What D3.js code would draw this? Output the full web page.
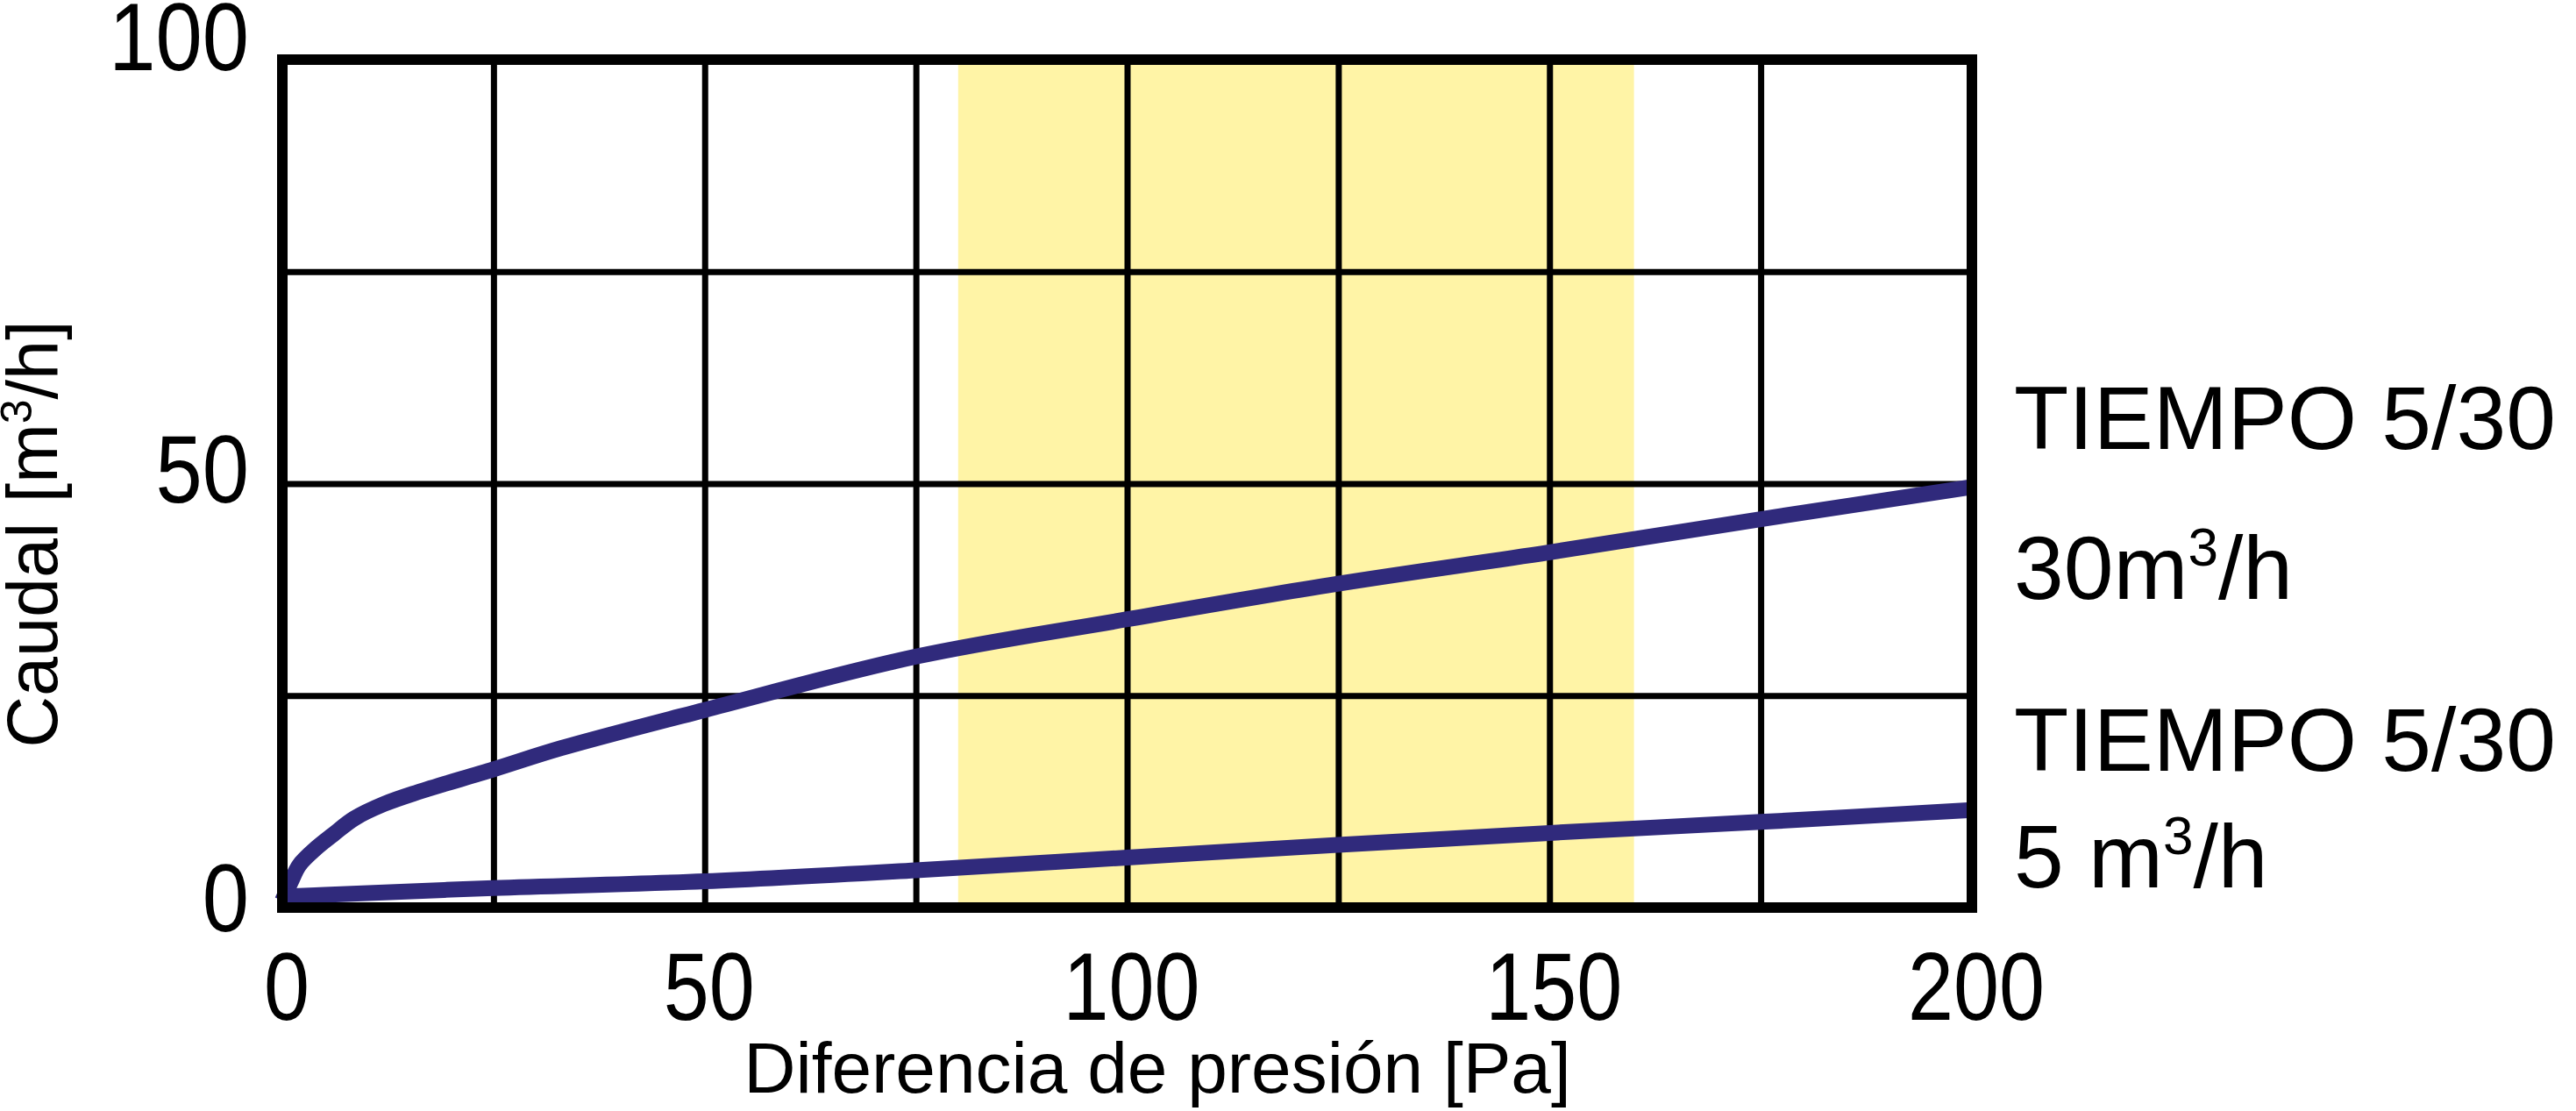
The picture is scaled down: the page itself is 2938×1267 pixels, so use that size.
<!DOCTYPE html>
<html>
<head>
<meta charset="utf-8">
<script src="https://cdn.jsdelivr.net/npm/d3@7"></script>
<style>
  html, body { margin: 0; padding: 0; background: #fff; }
  svg { display: block; font-family: "Liberation Sans", Arial, sans-serif; }
</style>
</head>
<body>
<svg id="chart" width="2938" height="1267"></svg>
<script>
// data
const pressure30 = [0, 1, 2, 4, 6, 8.5, 12, 16, 25, 33, 50, 75, 100, 125, 150, 175, 200];
const flow30     = [0.8, 3, 5, 7, 8.6, 10.5, 12.2, 13.6, 16.3, 18.8, 23.3, 29.6, 34.0, 38.2, 41.9, 45.8, 49.6];
const pressure5  = [0, 5, 25, 50, 75, 100, 125, 150, 175, 200];
const flow5      = [1.3, 1.5, 2.3, 3.1, 4.4, 5.9, 7.4, 8.8, 10.1, 11.5];

const xTicks = [0, 50, 100, 150, 200];
const yTicks = [0, 50, 100];
const xGrid = [25, 50, 75, 100, 125, 150, 175];
const yGrid = [25, 50, 75];
const bandRange = [80, 160];

const seriesTitle = ["TIEMPO 5/30", "TIEMPO 5/30"];
const seriesRate = ["30", "5 "];

const xTitle = "Diferencia de presión [Pa]";
const yTitle = "Caudal [m";

// layout
const svg = d3.select("#chart");
const pLeft = 322, pRight = 2249, pTop = 68, pBottom = 1035;

const x = d3.scaleLinear().domain([0, 200]).range([pLeft, pRight]);
const y = d3.scaleLinear().domain([0, 100]).range([pBottom, pTop]);

const ink = "#000";
const lineColor = "#302a7c";

// yellow band
svg.append("rect")
  .attr("x", x(bandRange[0]))
  .attr("y", pTop)
  .attr("width", x(bandRange[1]) - x(bandRange[0]))
  .attr("height", pBottom - pTop)
  .attr("fill", "#fff4a6");

// grid via axes
svg.append("g")
  .attr("transform", `translate(0,${pBottom})`)
  .call(d3.axisBottom(x).tickValues(xGrid).tickSize(-(pBottom - pTop)).tickFormat(""))
  .call(g => g.select(".domain").remove())
  .selectAll("line").attr("stroke", ink).attr("stroke-width", 7);

svg.append("g")
  .attr("transform", `translate(${pLeft},0)`)
  .call(d3.axisLeft(y).tickValues(yGrid).tickSize(-(pRight - pLeft)).tickFormat(""))
  .call(g => g.select(".domain").remove())
  .selectAll("line").attr("stroke", ink).attr("stroke-width", 7);

// curves
const line = d3.line()
  .x(d => x(d[0]))
  .y(d => y(d[1]))
  .curve(d3.curveCatmullRom.alpha(0.5));

const series = [
  d3.zip(pressure30, flow30),
  d3.zip(pressure5, flow5)
];

svg.append("g")
  .selectAll("path")
  .data(series)
  .enter()
  .append("path")
    .attr("d", line)
    .attr("fill", "none")
    .attr("stroke", lineColor)
    .attr("stroke-width", 18)
    .attr("stroke-linejoin", "round");

// frame
svg.append("rect")
  .attr("x", pLeft)
  .attr("y", pTop)
  .attr("width", pRight - pLeft)
  .attr("height", pBottom - pTop)
  .attr("fill", "none")
  .attr("stroke", ink)
  .attr("stroke-width", 12);

// tick labels (narrow digits)
svg.append("g")
  .selectAll("text")
  .data(xTicks)
  .enter()
  .append("text")
    .attr("transform", d => `translate(${x(d) + 5},1163) scale(0.85,1)`)
    .attr("text-anchor", "middle")
    .attr("font-size", 110)
    .attr("fill", ink)
    .text(d => d);

svg.append("g")
  .selectAll("text")
  .data(yTicks)
  .enter()
  .append("text")
    .attr("transform", d => `translate(284,${d === 100 ? 80 : y(d) + (d === 0 ? 27 : 21)}) scale(0.87,1)`)
    .attr("text-anchor", "end")
    .attr("font-size", 110)
    .attr("fill", ink)
    .text(d => d);

// axis titles
svg.append("text")
  .attr("x", 1320)
  .attr("y", 1246)
  .attr("text-anchor", "middle")
  .attr("font-size", 82)
  .attr("fill", ink)
  .text(xTitle);

const yt = svg.append("text")
  .attr("transform", "translate(65,609) rotate(-90)")
  .attr("text-anchor", "middle")
  .attr("font-size", 81)
  .attr("fill", ink);
yt.append("tspan").text(yTitle);
yt.append("tspan").attr("font-size", 50).attr("dy", -29).text("3");
yt.append("tspan").attr("dy", 29).text("/h]");

// series labels on the right
const labelBase = [[512, 683], [879, 1012]];
seriesTitle.forEach((t, i) => {
  svg.append("text")
    .attr("x", 2297)
    .attr("y", labelBase[i][0])
    .attr("font-size", 102)
    .attr("fill", ink)
    .text(t);
  const r = svg.append("text")
    .attr("x", 2297)
    .attr("y", labelBase[i][1])
    .attr("font-size", 102)
    .attr("fill", ink);
  r.append("tspan").text(seriesRate[i] + "m");
  r.append("tspan").attr("font-size", 62).attr("dy", -38).text("3");
  r.append("tspan").attr("dy", 38).text("/h");
});
</script>
</body>
</html>
